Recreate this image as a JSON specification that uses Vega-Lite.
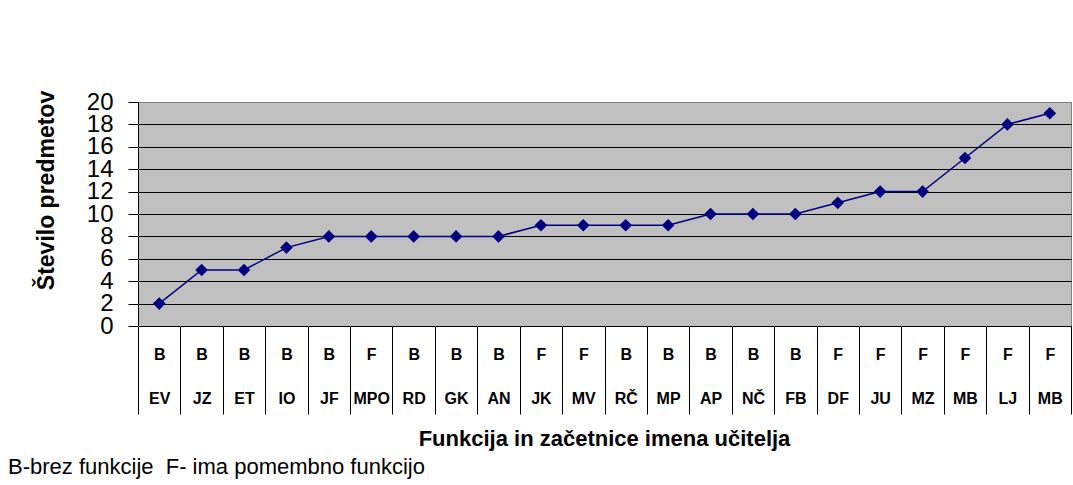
{
  "$schema": "https://vega.github.io/schema/vega-lite/v6.json",
  "width": 933,
  "height": 224,
  "autosize": "none",
  "padding": {"left": 138, "top": 102, "right": 2, "bottom": 159},
  "background": "white",
  "config": {
    "font": "Liberation Sans",
    "view": {"fill": "#C0C0C0", "stroke": "#808080", "strokeWidth": 1}
  },
  "title": {
    "text": "B-brez funkcije\u00a0 F- ima pomembno funkcijo",
    "orient": "bottom",
    "anchor": "start",
    "frame": "group",
    "dx": -130,
    "offset": 8,
    "fontSize": 22,
    "fontWeight": "normal",
    "color": "black"
  },
  "data": {
    "values": [
      {"kljuc": "01|B|EV", "funkcija": "B", "ucitelj": "EV", "predmeti": 2},
      {"kljuc": "02|B|JZ", "funkcija": "B", "ucitelj": "JZ", "predmeti": 5},
      {"kljuc": "03|B|ET", "funkcija": "B", "ucitelj": "ET", "predmeti": 5},
      {"kljuc": "04|B|IO", "funkcija": "B", "ucitelj": "IO", "predmeti": 7},
      {"kljuc": "05|B|JF", "funkcija": "B", "ucitelj": "JF", "predmeti": 8},
      {"kljuc": "06|F|MPO", "funkcija": "F", "ucitelj": "MPO", "predmeti": 8},
      {"kljuc": "07|B|RD", "funkcija": "B", "ucitelj": "RD", "predmeti": 8},
      {"kljuc": "08|B|GK", "funkcija": "B", "ucitelj": "GK", "predmeti": 8},
      {"kljuc": "09|B|AN", "funkcija": "B", "ucitelj": "AN", "predmeti": 8},
      {"kljuc": "10|F|JK", "funkcija": "F", "ucitelj": "JK", "predmeti": 9},
      {"kljuc": "11|F|MV", "funkcija": "F", "ucitelj": "MV", "predmeti": 9},
      {"kljuc": "12|B|RČ", "funkcija": "B", "ucitelj": "RČ", "predmeti": 9},
      {"kljuc": "13|B|MP", "funkcija": "B", "ucitelj": "MP", "predmeti": 9},
      {"kljuc": "14|B|AP", "funkcija": "B", "ucitelj": "AP", "predmeti": 10},
      {"kljuc": "15|B|NČ", "funkcija": "B", "ucitelj": "NČ", "predmeti": 10},
      {"kljuc": "16|B|FB", "funkcija": "B", "ucitelj": "FB", "predmeti": 10},
      {"kljuc": "17|F|DF", "funkcija": "F", "ucitelj": "DF", "predmeti": 11},
      {"kljuc": "18|F|JU", "funkcija": "F", "ucitelj": "JU", "predmeti": 12},
      {"kljuc": "19|F|MZ", "funkcija": "F", "ucitelj": "MZ", "predmeti": 12},
      {"kljuc": "20|F|MB", "funkcija": "F", "ucitelj": "MB", "predmeti": 15},
      {"kljuc": "21|F|LJ", "funkcija": "F", "ucitelj": "LJ", "predmeti": 18},
      {"kljuc": "22|F|MB", "funkcija": "F", "ucitelj": "MB", "predmeti": 19}
    ]
  },
  "layer": [
    {
      "mark": {
        "type": "line",
        "color": "#000080",
        "strokeWidth": 1.5,
        "point": {"shape": "diamond", "size": 160, "filled": true, "color": "#000080", "opacity": 1}
      },
      "encoding": {
        "x": {
          "field": "kljuc",
          "type": "ordinal",
          "sort": null,
          "bandPosition": 0.5,
          "scale": {"type": "band", "paddingInner": 0, "paddingOuter": 0},
          "axis": {
            "title": "Funkcija in začetnice imena učitelja",
            "titleFontSize": 22,
            "titleFontWeight": "bold",
            "titleColor": "black",
            "titleX": 466,
            "titleY": 112,
            "titleAlign": "center",
            "titleBaseline": "middle",
            "labelExpr": "[split(datum.value, '|')[1], split(datum.value, '|')[2]]",
            "labelAngle": 0,
            "labelFontSize": 16,
            "labelFontWeight": "bold",
            "labelColor": "black",
            "labelLineHeight": 44,
            "labelPadding": -68,
            "labelBaseline": "top",
            "labelOverlap": false,
            "labelBound": false,
            "labelFlush": false,
            "tickBand": "extent",
            "tickSize": 88,
            "tickColor": "black",
            "tickWidth": 1,
            "domainColor": "black",
            "domainWidth": 1,
            "grid": false
          }
        },
        "y": {
          "field": "predmeti",
          "type": "quantitative",
          "scale": {"domain": [0, 20], "nice": false},
          "axis": {
            "title": "Število predmetov",
            "values": [0, 2, 4, 6, 8, 10, 12, 14, 16, 18, 20],
            "grid": true,
            "gridColor": {"condition": {"test": "datum.value == 20", "value": "#808080"}, "value": "black"},
            "gridOpacity": 1,
            "gridWidth": 1,
            "domainColor": "black",
            "tickColor": "black",
            "tickSize": 10,
            "labelFontSize": 24,
            "labelColor": "black",
            "labelPadding": 15,
            "labelOverlap": false,
            "labelBound": false,
            "labelFlush": false,
            "titleFontSize": 23,
            "titleFontWeight": "bold",
            "titleColor": "black",
            "titleX": -92,
            "titleY": 88,
            "titleAngle": 270,
            "titleAlign": "center",
            "titleBaseline": "middle"
          }
        }
      }
    }
  ]
}
